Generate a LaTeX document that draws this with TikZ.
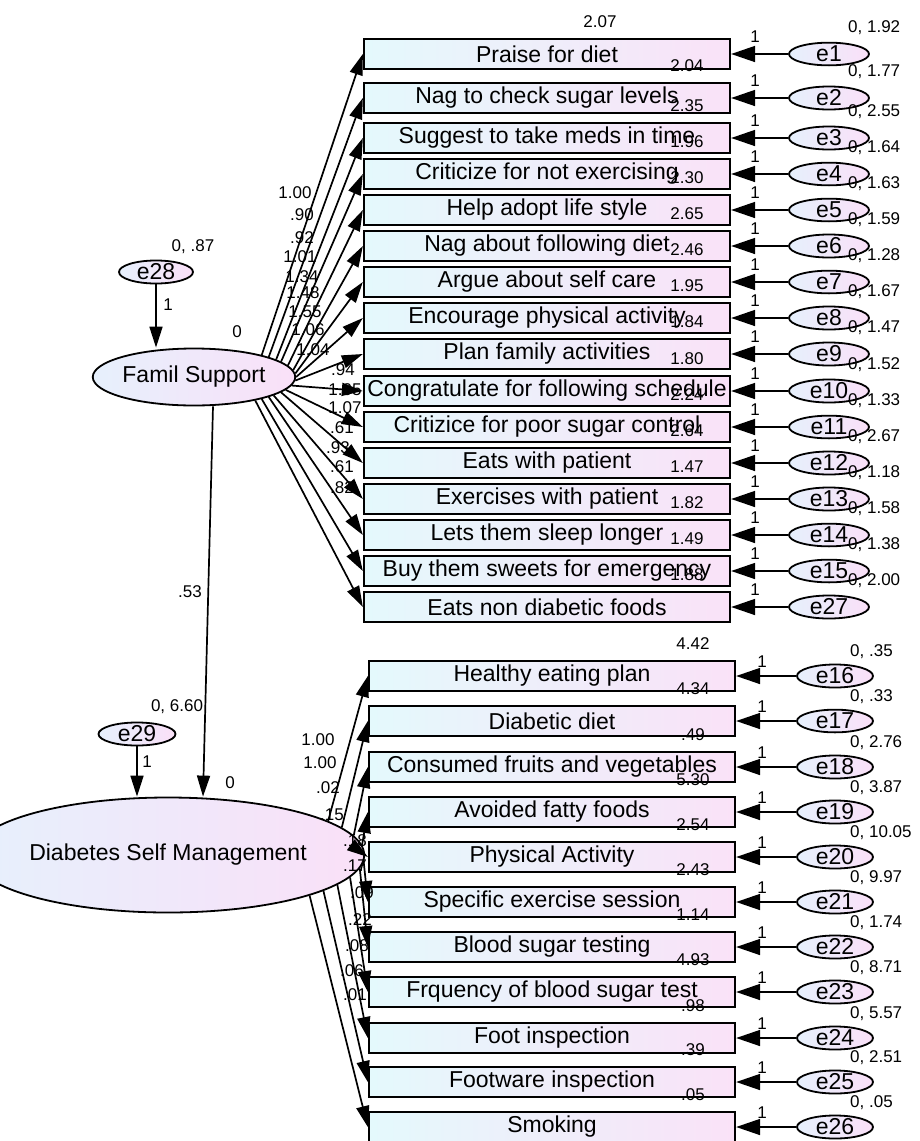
\documentclass[tikz,border=0pt]{standalone}
\usepackage{fontspec}
\setmainfont{Liberation Sans}
\usepackage{tikz}
\usetikzlibrary{shapes.geometric, arrows.meta}
\definecolor{boxl}{RGB}{228,249,252}
\definecolor{boxr}{RGB}{250,226,248}
\definecolor{latl}{RGB}{230,240,252}
\definecolor{latr}{RGB}{250,224,248}
\newcommand{\fsz}[1]{\fontsize{#1}{#1}\selectfont}
\tikzset{
  obs/.style={draw, line width=2.3pt, left color=boxl, right color=boxr, minimum width=366pt, minimum height=30pt, inner sep=0pt, font=\fsz{23}},
  lat/.style={ellipse, draw, line width=1.8pt, left color=latl, right color=latr, inner sep=0pt, font=\fsz{23}},
  err/.style={lat, minimum width=80pt, minimum height=22pt},
  errb/.style={lat, minimum width=76pt, minimum height=16pt},
  lbl/.style={font=\fsz{17}, inner sep=0pt},
  arr/.style={-{Triangle[length=21pt,width=13pt]}, line width=1.7pt},
  errarr/.style={-{Triangle[length=24pt,width=16pt]}, line width=1.7pt},
}
\begin{document}
\begin{tikzpicture}[x=1pt, y=-1pt]
  \useasboundingbox (0,0) rectangle (919,1141);
  % latent variables
  \node[lat, minimum width=198pt, minimum height=57pt] (fs) at (194,377) {Famil Support};
  \node[lat, minimum width=317pt, minimum height=115pt] (dsm) at (168,855) {Diabetes Self Management};
  \node[lat, minimum width=74pt, minimum height=18pt] (e28) at (156,272) {e28};
  \node[lat, minimum width=77pt, minimum height=22pt] (e29) at (137,734) {e29};
  \draw[arr] (e28) -- (e28 |- fs.north);
  \draw[arr] (e29) -- (e29 |- dsm.north);
  \draw[arr] ([xshift=19pt]fs.south) -- ([xshift=35pt]dsm.north);
  \node[lbl] (v28) at (193,247) {0, .87};
  \node[lbl] (w28) at (168,305) {1};
  \node[lbl] (m28) at (237,332) {0};
  \node[lbl] (v29) at (177,707) {0, 6.60};
  \node[lbl] (w29) at (147,762) {1};
  \node[lbl] (m29) at (230,783) {0};
  \node[lbl] (reg) at (190,592) {.53};
  % family support items
  \foreach \i/\y/\txt/\ix/\ic/\va/\ld/\lx/\ly/\en [evaluate=\i as \a using 18-(\i-1)*2.6] in {
    1/54/Praise for diet/600/2.07/1.92/1.00/295/193/1,
    2/98/Nag to check sugar levels/687/2.04/1.77/.90/302/215/2,
    3/138/Suggest to take meds in time/687/2.35/2.55/.92/302/238/3,
    4/174/Criticize for not exercising/687/1.96/1.64/1.01/300/257/4,
    5/210/Help adopt life style/687/2.30/1.63/1.34/302/277/5,
    6/246/Nag about following diet/687/2.65/1.59/1.48/303/293/6,
    7/282/Argue about self care/687/2.46/1.28/1.55/305/312/7,
    8/318/Encourage physical activity/687/1.95/1.67/1.06/308/330/8,
    9/354/Plan family activities/687/1.84/1.47/1.04/313/350/9,
    10/391/Congratulate for following schedule/687/1.80/1.52/.94/343/370/10,
    11/427/Critizice for poor sugar control/687/2.24/1.33/1.05/345/390/11,
    12/463/Eats with patient/687/2.64/2.67/1.07/345/408/12,
    13/499/Exercises with patient/687/1.47/1.18/.61/342/428/13,
    14/535/Lets them sleep longer/687/1.82/1.58/.93/338/448/14,
    15/571/Buy them sweets for emergency/687/1.49/1.38/.61/342/467/15,
    16/607/Eats non diabetic foods/687/1.88/2.00/.82/342/488/27}
  {
    \node[obs] (t\i) at (547,\y) {\txt};
    \node[err] (e\en) at (829,\y) {e\en};
    \draw[arr] (fs.\a) -- (t\i.west);
    \draw[errarr] (e\en) -- (t\i.east);
    \node[lbl] (ti\i) at (\ix,\y-32) {\ic};
    \node[lbl, anchor=west] (tv\i) at (848,\y-26) {0, \va};
    \node[lbl] (tw\i) at (755,\y-17) {1};
    \node[lbl] (tl\i) at (\lx,\ly) {\ld};
  }
  % self management items
  \foreach \i/\y/\txt/\ic/\va/\ld/\lx/\ly/\en [evaluate=\i as \a using 12-(\i-1)*2.8] in {
    1/676/Healthy eating plan/4.42/.35/1.00/318/740/16,
    2/721/Diabetic diet/4.34/.33/1.00/320/763/17,
    3/767/Consumed fruits and vegetables/.49/2.76/.02/328/788/18,
    4/812/Avoided fatty foods/5.30/3.87/.15/332/815/19,
    5/857/Physical Activity/2.54/10.05/.18/355/841/20,
    6/902/Specific exercise session/2.43/9.97/.17/355/866/21,
    7/947/Blood sugar testing/1.14/1.74/.09/362/893/22,
    8/992/Frquency of blood sugar test/4.93/8.71/.22/360/920/23,
    9/1038/Foot inspection/.98/5.57/.08/357/946/24,
    10/1082/Footware inspection/.39/2.51/.06/352/971/25,
    11/1127/Smoking/.05/.05/.01/355/995/26}
  {
    \node[obs] (b\i) at (552,\y) {\txt};
    \node[errb] (e\en) at (835,\y) {e\en};
    \draw[arr] (dsm.\a) -- (b\i.west);
    \draw[errarr] (e\en) -- (b\i.east);
    \node[lbl] (bi\i) at (693,\y-32) {\ic};
    \node[lbl, anchor=west] (bv\i) at (850,\y-24) {0, \va};
    \node[lbl] (bw\i) at (762,\y-14) {1};
    \node[lbl] (bl\i) at (\lx,\ly) {\ld};
  }
\end{tikzpicture}
\end{document}
